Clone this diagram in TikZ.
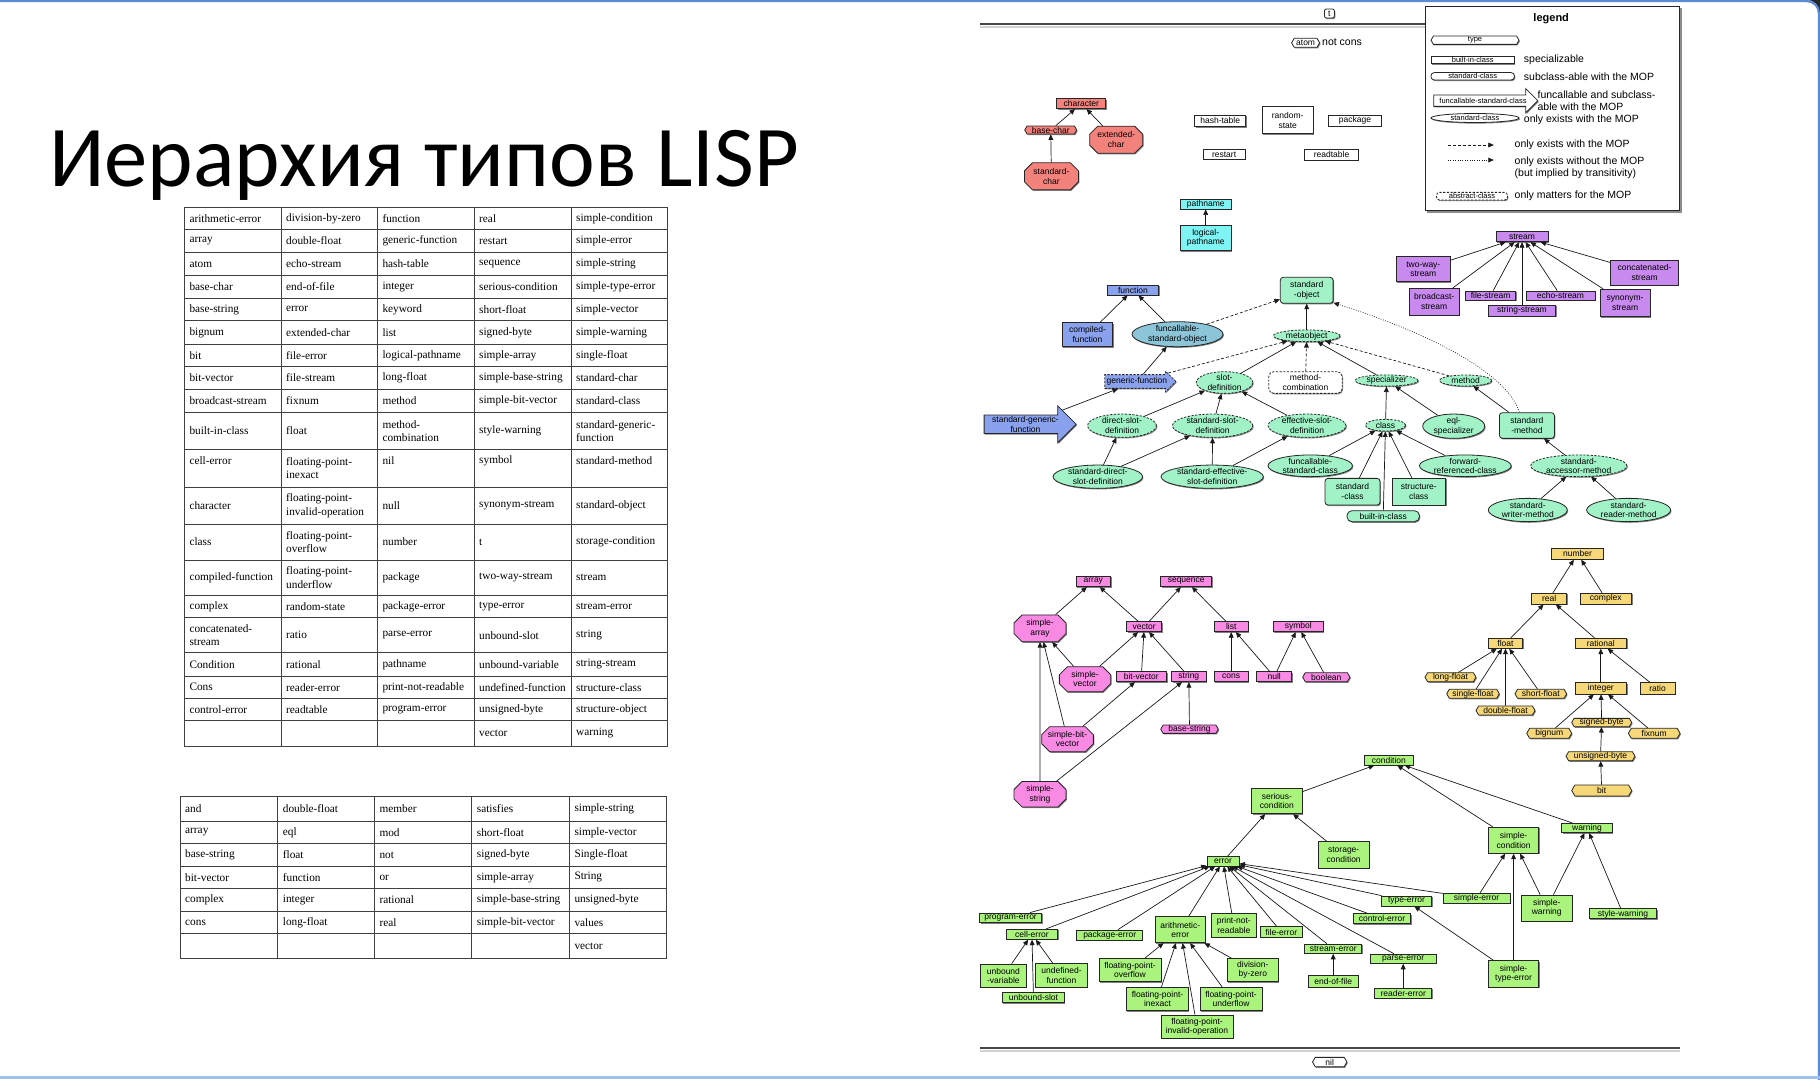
\documentclass[tikz,border=0pt]{standalone}
\usepackage{fontspec}
\newfontfamily\nf{Liberation Sans}
\newfontfamily\tf{Liberation Serif}
\newfontfamily\ttl{Carlito}
\usetikzlibrary{shapes.geometric,shapes.misc,shapes.symbols,shapes.arrows,shadows,arrows.meta}

\definecolor{cchar}{HTML}{F4827C}
\definecolor{cseq}{HTML}{F88AE4}
\definecolor{ccyan}{HTML}{7EF4F4}
\definecolor{cpurp}{HTML}{C88AEE}
\definecolor{cblue}{HTML}{8AA2EE}
\definecolor{cteal}{HTML}{8CC4D8}
\definecolor{cclos}{HTML}{A2F2C8}
\definecolor{cnum}{HTML}{F6D878}
\definecolor{ccond}{HTML}{AAF47E}
\definecolor{slideblue}{HTML}{5A8AD8}
\definecolor{bandblue}{HTML}{9CC3F0}

\tikzset{
  nd/.style={draw=black!85, line width=0.8pt, font=\nf\fontsize{8.5}{9.5}\selectfont,
    align=center, inner sep=0pt,
    drop shadow={shadow xshift=0.9pt, shadow yshift=-1.1pt, opacity=0.5, fill=black}},
  sz/.style 2 args={minimum width=#1, minimum height=#2},
  rbox/.style={nd, rectangle, fill=#1},
  rrbox/.style={nd, rectangle, rounded corners=3pt, fill=#1},
  tbox/.style={nd, signal, signal to=east and west, signal pointer angle=120, fill=#1},
  obox/.style={nd, chamfered rectangle, chamfered rectangle xsep=4pt,
    chamfered rectangle ysep=4pt, fill=#1},
  ebox/.style={nd, ellipse, fill=#1},
  e2/.style={inner ysep=-1.5pt},
  arrbox/.style={nd, single arrow, single arrow head indent=0pt, fill=#1},
  abs/.style={dash pattern=on 2.2pt off 1.5pt},
  isa/.style={-{Triangle[length=5.5pt,width=4.8pt]}, line width=0.7pt, black!90},
  mop/.style={isa, dash pattern=on 3pt off 2pt},
  transit/.style={isa, dash pattern=on 0.8pt off 1.6pt},
  lgtxt/.style={anchor=west, align=left, inner sep=0pt, font=\nf\fontsize{10.5}{12}\selectfont},
  tline/.style={line width=1pt, black!75},
  tcell/.style={anchor=west, align=left, inner sep=0pt, font=\tf\fontsize{11.3}{13.5}\selectfont},
  rule/.style={line width=2.2pt, black!72},
  ruleshade/.style={line width=2pt, black!18},
}

\begin{document}
\begin{tikzpicture}[x=1pt, y=-1pt]
\useasboundingbox (0,0) rectangle (1820,1079);
\fill[black!85] (1800,0) rectangle (1820,20);
\fill[white, rounded corners=12pt] (-20,0) -- (1819,0) -- (1819,1100) -- (-20,1100) -- cycle;
\draw[slideblue, line width=2.2pt, rounded corners=12pt] (-20,1.1) -- (1818.9,1.1) -- (1818.9,1100);
\fill[bandblue] (0,1075.5) rectangle (1820,1079);

% ---------- title ----------
\node[anchor=base west, inner sep=0pt] (title) at (49,186.5)
  {\resizebox{750pt}{!}{\ttl\fontsize{86}{90}\selectfont Иерархия типов LISP}};

% ---------- first table ----------
\foreach \x in {184.3,281,377.3,474,571,667.7} \draw[tline] (\x,207.3) -- (\x,746);
\foreach \y in {207.3,229.3,252.7,275.3,298,320.7,344,366.7,389.3,412.7,449.3,487.3,524,560,595,617.7,652.7,676,698.7,720.7,746}
  \draw[tline] (184.3,\y) -- (667.7,\y);
\foreach \y/\a/\b/\c/\d/\e [count=\r] in {
  218.3/arithmetic-error/division-by-zero/function/real/simple-condition,
  241/array/double-float/generic-function/restart/simple-error,
  264/atom/echo-stream/hash-table/sequence/simple-string,
  286.7/base-char/end-of-file/integer/serious-condition/simple-type-error,
  309.3/base-string/error/keyword/short-float/simple-vector,
  332.3/bignum/extended-char/list/signed-byte/simple-warning,
  355.3/bit/file-error/logical-pathname/simple-array/single-float,
  378/bit-vector/file-stream/long-float/simple-base-string/standard-char,
  401/broadcast-stream/fixnum/method/simple-bit-vector/standard-class,
  431/built-in-class/float/{method-\\combination}/style-warning/{standard-generic-\\function},
  505.7/character/{floating-point-\\invalid-operation}/null/synonym-stream/standard-object,
  542/class/{floating-point-\\overflow}/number/t/storage-condition,
  577.5/compiled-function/{floating-point-\\underflow}/package/two-way-stream/stream,
  606.3/complex/random-state/package-error/type-error/stream-error,
  635.2/{concatenated-\\stream}/ratio/parse-error/unbound-slot/string,
  664.3/Condition/rational/pathname/unbound-variable/string-stream,
  687.3/Cons/reader-error/print-not-readable/undefined-function/structure-class,
  709.7/control-error/readtable/program-error/unsigned-byte/structure-object}{
  \node[tcell] (ta-\r-1) at (189.3,\y) {\a};
  \node[tcell] (ta-\r-2) at (286,\y) {\b};
  \node[tcell] (ta-\r-3) at (382.3,\y) {\c};
  \node[tcell] (ta-\r-4) at (479,\y) {\d};
  \node[tcell] (ta-\r-5) at (576,\y) {\e};
}
\node[tcell] (ta-x-1) at (189.3,460.7) {cell-error};
\node[tcell] (ta-x-2) at (286,468.3) {floating-point-\\inexact};
\node[tcell] (ta-x-3) at (382.3,460.7) {nil};
\node[tcell] (ta-x-4) at (479,460.7) {symbol};
\node[tcell] (ta-x-5) at (576,460.7) {standard-method};
\node[tcell] (ta-z-4) at (479,733.3) {vector};
\node[tcell] (ta-z-5) at (576,733.3) {warning};

% ---------- second table ----------
\foreach \x in {180,277.7,374.3,471.7,569.3,666.7} \draw[tline] (\x,796.7) -- (\x,958.3);
\foreach \y in {796.7,821,843.7,866,888.7,911,933.7,958.3} \draw[tline] (180,\y) -- (666.7,\y);
\foreach \y/\a/\b/\c/\d/\e [count=\r] in {
  808.9/and/double-float/member/satisfies/simple-string,
  832.4/array/eql/mod/short-float/simple-vector,
  854.9/base-string/float/not/signed-byte/Single-float,
  877.4/bit-vector/function/or/simple-array/String,
  899.9/complex/integer/rational/simple-base-string/unsigned-byte,
  922.4/cons/long-float/real/simple-bit-vector/values}{
  \node[tcell] (tb-\r-1) at (185,\y) {\a};
  \node[tcell] (tb-\r-2) at (282.7,\y) {\b};
  \node[tcell] (tb-\r-3) at (379.3,\y) {\c};
  \node[tcell] (tb-\r-4) at (476.7,\y) {\d};
  \node[tcell] (tb-\r-5) at (574.3,\y) {\e};
}
\node[tcell] (tb-z-5) at (574.3,946) {vector};

% ---------- top and bottom rules ----------
\coordinate (topL) at (979.6,24);   \coordinate (topR) at (1680,24);
\coordinate (topLs) at (979.6,26.6); \coordinate (topRs) at (1680,26.6);
\coordinate (botL) at (979.6,1048.3); \coordinate (botR) at (1680,1048.3);
\coordinate (botLs) at (979.6,1050.9); \coordinate (botRs) at (1680,1050.9);
\draw[ruleshade] (topLs) -- (topRs);
\draw[rule] (topL) -- (topR);
\draw[ruleshade] (botLs) -- (botRs);
\draw[rule] (botL) -- (botR);

\node[rrbox=white, sz={10}{9}, rounded corners=2pt] (nT) at (1329.4,13.5) {t};
\node[tbox=white, sz={28}{9}] (nAtom) at (1305.6,42.8) {atom};
\node[lgtxt] (nNotCons) at (1322,42.3) {not cons};
\node[tbox=white, sz={34.4}{9.3}] (nNil) at (1329.7,1062) {nil};

% ---------- legend ----------
\node[draw=black!85, line width=1pt, fill=white, minimum width=254.8, minimum height=204.7,
  drop shadow={shadow xshift=1.8pt, shadow yshift=-2pt, opacity=0.45, fill=black}]
  (lgBox) at (1552.4,108.4) {};
\node[font=\nf\bfseries\fontsize{11}{13}\selectfont, inner sep=0pt] (lgTitle) at (1551.2,18.5) {legend};
\node[tbox=white, sz={88}{8.3}, font=\nf\fontsize{7.5}{8.5}\selectfont] (lgType) at (1475,40.2) {type};
\node[rbox=white, sz={83.6}{7.5}, font=\nf\fontsize{7.5}{8.5}\selectfont] (lgBic) at (1472.7,59.7) {built-in-class};
\node[rrbox=white, sz={83.6}{7.5}, rounded corners=3.5pt, font=\nf\fontsize{7.5}{8.5}\selectfont] (lgStd) at (1472.7,76.3) {standard-class};
\node[arrbox=white, minimum height=104, inner ysep=2.5pt, inner xsep=1pt, single arrow head extend=6.5pt, font=\nf\fontsize{7.5}{8.5}\selectfont] (lgFsc) at (1483,100.7) {funcallable-standard-class};
\node[ebox=white, sz={88}{9}, font=\nf\fontsize{7.5}{8.5}\selectfont] (lgOnly) at (1475,118) {standard-class};
\node[rrbox=white, abs, sz={71}{7.7}, font=\nf\fontsize{7.5}{8.5}\selectfont] (lgAbs) at (1472,196.2) {abstract-class};
\node[lgtxt] (lgT1) at (1523.7,60) {specializable};
\node[lgtxt] (lgT2) at (1523.7,77) {subclass-able with the MOP};
\node[lgtxt] (lgT3) at (1537.4,100.5) {funcallable and subclass-\\able with the MOP};
\node[lgtxt] (lgT4) at (1523.7,119.3) {only exists with the MOP};
\coordinate (lgD1) at (1448,145); \coordinate (lgD2) at (1493.8,145);
\coordinate (lgP1) at (1448,160); \coordinate (lgP2) at (1493.8,160);
\draw[mop] (lgD1) -- (lgD2);
\draw[transit] (lgP1) -- (lgP2);
\node[lgtxt] (lgT5) at (1514.5,145) {only exists with the MOP};
\node[lgtxt] (lgT6) at (1514.5,167.8) {only exists without the MOP\\(but implied by transitivity)};
\node[lgtxt] (lgT7) at (1514.5,196.2) {only matters for the MOP};

% ---------- characters and misc built-ins ----------
\node[rbox=cchar, sz={49}{10}] (nChar) at (1081.3,103.7) {character};
\node[tbox=cchar, sz={52}{8}] (nBaseChar) at (1050.7,130) {base-char};
\node[obox=cchar, sz={53}{27}] (nExtChar) at (1116.2,139.7) {extended-\\char};
\node[obox=cchar, sz={54}{27}] (nStdChar) at (1051.4,176.3) {standard-\\char};
\node[rbox=white, sz={51}{11.7}] (nHash) at (1220.2,120.8) {hash-table};
\node[rbox=white, sz={51}{27}] (nRand) at (1287.7,120.3) {random-\\state};
\node[rbox=white, sz={53}{11}] (nPkg) at (1354.9,120.5) {package};
\node[rbox=white, sz={42}{10}] (nRestart) at (1224.1,154.3) {restart};
\node[rbox=white, sz={54}{10.7}] (nReadtable) at (1331.5,154.7) {readtable};

% ---------- pathnames ----------
\node[rbox=ccyan, sz={51}{9.7}] (nPath) at (1205.7,204.2) {pathname};
\node[rbox=ccyan, sz={51}{25.7}] (nLogPath) at (1205.7,237.8) {logical-\\pathname};

% ---------- streams ----------
\node[rbox=cpurp, sz={52}{10}] (nStream) at (1522,236.7) {stream};
\node[rbox=cpurp, sz={54}{25}] (nTwoWay) at (1423.3,269.2) {two-way-\\stream};
\node[rbox=cpurp, sz={67.5}{25}] (nConcat) at (1644.6,272.5) {concatenated-\\stream};
\node[rbox=cpurp, sz={50.5}{26.7}] (nBroad) at (1434.2,301.7) {broadcast-\\stream};
\node[rbox=cpurp, sz={50.5}{9}] (nFileS) at (1490.6,295.5) {file-stream};
\node[rbox=cpurp, sz={69}{9}] (nEchoS) at (1560.4,295.5) {echo-stream};
\node[rbox=cpurp, sz={67.5}{11}] (nStringS) at (1522,310.5) {string-stream};
\node[rbox=cpurp, sz={49.6}{27.3}] (nSynS) at (1625.1,303) {synonym-\\stream};

% ---------- functions and CLOS ----------
\node[rbox=cblue, sz={51.5}{10}] (nFunc) at (1133,290) {function};
\node[rbox=cblue, sz={50.5}{24}] (nCompFunc) at (1087.5,334.7) {compiled-\\function};
\node[ebox=cteal, e2, sz={91}{25}] (nFSO) at (1177.5,334.2) {funcallable-\\standard-object};
\node[rrbox=cclos, sz={52.8}{26}] (nSO) at (1306.7,290.3) {standard\\-object};
\node[ebox=cclos, abs, sz={66.6}{11.7}] (nMeta) at (1306.7,335.8) {metaobject};
\node[arrbox=cblue, abs, minimum height=71, inner ysep=2.5pt, inner xsep=1pt, single arrow head extend=3.5pt] (nGF) at (1136.9,381.5) {generic-function};
\node[ebox=cclos, abs, e2, sz={56.5}{21.7}] (nSlotDef) at (1224.5,382.5) {slot-\\definition};
\node[rrbox=white, abs, sz={73.5}{21.7}, rounded corners=5pt] (nMC) at (1305.5,382.5) {method-\\combination};
\node[ebox=cclos, abs, sz={62.9}{11}] (nSpec) at (1386.6,380.5) {specializer};
\node[ebox=cclos, abs, sz={51.9}{11}] (nMethod) at (1465.6,380.5) {method};
\node[arrbox=cblue, minimum height=92, inner ysep=1pt, inner xsep=2pt, single arrow head extend=9.2pt] (nSGF) at (1025.5,424.3) {standard-generic-\\function};
\node[ebox=cclos, abs, e2, sz={68.9}{23.3}] (nDSD) at (1122,425.7) {direct-slot-\\definition};
\node[ebox=cclos, abs, e2, sz={80.4}{23.3}] (nSSD) at (1212.6,425.7) {standard-slot-\\definition};
\node[ebox=cclos, abs, e2, sz={78}{23.3}] (nESD) at (1307,425.7) {effective-slot-\\definition};
\node[ebox=cclos, abs, sz={40.4}{11.7}] (nClass) at (1385.5,425.2) {class};
\node[ebox=cclos, e2, sz={62}{24.3}] (nEql) at (1453.7,426.2) {eql-\\specializer};
\node[rrbox=cclos, sz={55}{25.7}] (nSM) at (1526.9,425.5) {standard\\-method};
\node[ebox=cclos, e2, sz={89.5}{23.3}] (nSDSD) at (1097.8,476.7) {standard-direct-\\slot-definition};
\node[ebox=cclos, e2, sz={102.3}{23.3}] (nSESD) at (1212.2,476.7) {standard-effective-\\slot-definition};
\node[ebox=cclos, e2, sz={84.5}{21.7}] (nFSC) at (1310.2,465.8) {funcallable-\\standard-class};
\node[ebox=cclos, e2, sz={91.8}{21.7}] (nFRC) at (1465.3,465.8) {forward-\\referenced-class};
\node[rrbox=cclos, sz={55}{26.7}] (nSC) at (1352.5,491.7) {standard\\-class};
\node[rbox=cclos, sz={53.7}{26.7}] (nStrC) at (1418.8,491.7) {structure-\\class};
\node[rrbox=cclos, sz={72.5}{11}, rounded corners=5pt] (nBIC) at (1383.2,516.2) {built-in-class};
\node[ebox=cclos, abs, e2, sz={96.4}{21.7}, inner xsep=-2pt] (nSAM) at (1578.8,465.8) {standard-\\accessor-method};
\node[ebox=cclos, e2, sz={79}{23.3}] (nSWM) at (1527.8,510) {standard-\\writer-method};
\node[ebox=cclos, e2, sz={84}{23.3}] (nSRM) at (1628.6,510) {standard-\\reader-method};

% ---------- sequences and symbols ----------
\node[rbox=cseq, sz={34.7}{10.7}] (nArray) at (1093.3,581.3) {array};
\node[rbox=cseq, sz={51}{10.7}] (nSeq) at (1186.2,581.3) {sequence};
\node[obox=cseq, sz={52}{26.7}] (nSArr) at (1040,628.3) {simple-\\array};
\node[rbox=cseq, sz={35}{10}] (nVec) at (1144.2,626.7) {vector};
\node[rbox=cseq, sz={34.3}{10}] (nList) at (1231.2,626.7) {list};
\node[rbox=cseq, sz={50}{10}] (nSym) at (1298.3,626.7) {symbol};
\node[obox=cseq, sz={51.3}{25}] (nSVec) at (1085,679.2) {simple-\\vector};
\node[rbox=cseq, sz={50.7}{10}] (nBitVec) at (1141.3,676.7) {bit-vector};
\node[rbox=cseq, sz={34.3}{10}] (nString) at (1188.8,676.7) {string};
\node[rbox=cseq, sz={34.3}{10}] (nCons) at (1231.2,676.7) {cons};
\node[rbox=cseq, sz={35}{10}] (nNull) at (1274.2,676.7) {null};
\node[tbox=cseq, sz={47.3}{9}] (nBool) at (1326.3,677.2) {boolean};
\node[tbox=cseq, sz={57.6}{8.3}] (nBaseStr) at (1189.5,729.2) {base-string};
\node[obox=cseq, sz={51.7}{25}] (nSBV) at (1067.5,739.2) {simple-bit-\\vector};
\node[obox=cseq, sz={52}{25}] (nSStr) at (1040,794.2) {simple-\\string};

% ---------- numbers ----------
\node[rbox=cnum, sz={51.7}{11}] (nNum) at (1577.5,553.8) {number};
\node[rbox=cnum, sz={35}{10.7}] (nReal) at (1549.2,598.7) {real};
\node[rbox=cnum, sz={51.7}{10.7}] (nCplx) at (1605.8,598.7) {complex};
\node[rbox=cnum, sz={34.3}{10}] (nFloat) at (1505.5,643.3) {float};
\node[rbox=cnum, sz={51.7}{10}] (nRat) at (1600.8,643.3) {rational};
\node[tbox=cnum, sz={51}{9}] (nLF) at (1450.5,677.2) {long-float};
\node[tbox=cnum, sz={52.6}{9}] (nSF) at (1473,693.8) {single-float};
\node[tbox=cnum, sz={51.7}{9}] (nShF) at (1540.8,693.8) {short-float};
\node[tbox=cnum, sz={59}{9}] (nDF) at (1505.5,710.5) {double-float};
\node[rbox=cnum, sz={51.7}{11.3}] (nInt) at (1600.8,688.3) {integer};
\node[rbox=cnum, sz={35}{11.3}] (nRatio) at (1657.5,688.3) {ratio};
\node[tbox=cnum, sz={45}{10}] (nBig) at (1549.2,733.3) {bignum};
\node[tbox=cnum, sz={60}{8.3}] (nSB) at (1601.7,722.5) {signed-byte};
\node[tbox=cnum, sz={51.7}{10}] (nFix) at (1654.2,733.3) {fixnum};
\node[tbox=cnum, sz={69}{9}] (nUB) at (1600.5,756.2) {unsigned-byte};
\node[tbox=cnum, sz={60}{11}] (nBit) at (1601.7,790.5) {bit};

% ---------- conditions ----------
\node[rbox=ccond, sz={49}{10}] (nCond) at (1388.9,760) {condition};
\node[rbox=ccond, sz={50.5}{25.5}] (nSerious) at (1276.9,801) {serious-\\condition};
\node[rbox=ccond, sz={50.5}{26.7}] (nStorage) at (1343.7,855) {storage-\\condition};
\node[rbox=ccond, sz={32}{9.3}] (nErr) at (1223,861.3) {error};
\node[rbox=ccond, sz={50.5}{26}] (nSCond) at (1513.6,840.3) {simple-\\condition};
\node[rbox=ccond, sz={50.5}{9.3}] (nWarn) at (1587,828) {warning};
\node[rbox=ccond, sz={50.5}{10}] (nTypeErr) at (1406.5,901) {type-error};
\node[rbox=ccond, sz={66.6}{10}] (nSErr) at (1476.6,898.3) {simple-error};
\node[rbox=ccond, sz={50.5}{26}] (nSWarn) at (1546.7,908) {simple-\\warning};
\node[rbox=ccond, sz={67.5}{10}] (nStyleW) at (1623,913.8) {style-warning};
\node[rbox=ccond, sz={62}{9.5}] (nProgErr) at (1010.6,917.7) {program-error};
\node[rbox=ccond, sz={57.4}{10}] (nCtrlErr) at (1382,918.5) {control-error};
\node[rbox=ccond, sz={51.4}{10}] (nCellErr) at (1031.9,934.3) {cell-error};
\node[rbox=ccond, sz={65.7}{10}] (nPkgErr) at (1109.7,935) {package-error};
\node[rbox=ccond, sz={50.5}{26}] (nArithErr) at (1180.3,929.7) {arithmetic-\\error};
\node[rbox=ccond, sz={44.5}{24}] (nPNR) at (1233.8,925.3) {print-not-\\readable};
\node[rbox=ccond, sz={41.3}{10.7}] (nFileErr) at (1281.3,932) {file-error};
\node[rbox=ccond, sz={57}{9.3}] (nStreamErr) at (1333.2,948.7) {stream-error};
\node[rbox=ccond, sz={66.5}{9.3}] (nParseErr) at (1403.2,958.7) {parse-error};
\node[rbox=ccond, sz={50.5}{26.7}] (nSTE) at (1513.6,974) {simple-\\type-error};
\node[rbox=ccond, sz={46}{23.3}] (nUnbVar) at (1003.4,975.7) {unbound\\-variable};
\node[rbox=ccond, sz={52}{24}] (nUndFun) at (1061.5,975.3) {undefined-\\function};
\node[rbox=ccond, sz={62}{10}] (nUnbSlot) at (1033.5,997.7) {unbound-slot};
\node[rbox=ccond, sz={62}{23.3}] (nFPO) at (1130,970) {floating-point-\\overflow};
\node[rbox=ccond, sz={50.5}{23.3}] (nDivZ) at (1252.8,970) {division-\\by-zero};
\node[rbox=ccond, sz={62}{23.3}] (nFPIx) at (1157.5,999) {floating-point-\\inexact};
\node[rbox=ccond, sz={62}{23.3}] (nFPU) at (1231,999) {floating-point-\\underflow};
\node[rbox=ccond, sz={72}{23.3}] (nFPIO) at (1197,1026.7) {floating-point-\\invalid-operation};
\node[rbox=ccond, sz={50.5}{12.3}] (nEOF) at (1333.2,981.2) {end-of-file};
\node[rbox=ccond, sz={57.3}{10}] (nReaderErr) at (1403.2,993.3) {reader-error};

% ---------- subtype links (child -> parent) ----------
\foreach \a/\b in {
  nBaseChar/nChar, nExtChar/nChar, nStdChar/nBaseChar, nLogPath/nPath,
  nTwoWay/nStream, nConcat/nStream, nBroad/nStream, nFileS/nStream,
  nEchoS/nStream, nStringS/nStream, nSynS/nStream,
  nCompFunc/nFunc, nFSO/nFunc, nMeta/nSO, nGF/nFSO, nSlotDef/nMeta, nSpec/nMeta,
  nSGF/nGF, nDSD/nSlotDef, nSSD/nSlotDef, nESD/nSlotDef,
  nSDSD/nDSD, nSDSD/nSSD, nSESD/nSSD, nSESD/nESD,
  nClass/nSpec, nEql/nSpec, nSM/nMethod, nSAM/nSM, nSWM/nSAM, nSRM/nSAM,
  nFSC/nClass, nSC/nClass, nStrC/nClass, nFRC/nClass, nBIC/nClass,
  nSArr/nArray, nVec/nArray, nVec/nSeq, nList/nSeq, nSVec/nSArr, nSVec/nVec,
  nBitVec/nVec, nString/nVec, nCons/nList, nNull/nList, nNull/nSym, nBool/nSym,
  nBaseStr/nString, nSBV/nSArr, nSBV/nBitVec, nSStr/nSArr, nSStr/nString,
  nReal/nNum, nCplx/nNum, nFloat/nReal, nRat/nReal, nLF/nFloat, nSF/nFloat,
  nDF/nFloat, nShF/nFloat, nInt/nRat, nRatio/nRat, nBig/nInt, nSB/nInt, nFix/nInt,
  nUB/nSB, nBit/nUB,
  nSerious/nCond, nSCond/nCond, nWarn/nCond, nErr/nSerious, nStorage/nSerious,
  nSErr/nSCond, nSErr/nErr, nSTE/nSCond, nSTE/nTypeErr, nSWarn/nSCond, nSWarn/nWarn,
  nStyleW/nWarn, nProgErr/nErr, nCellErr/nErr, nPkgErr/nErr, nArithErr/nErr,
  nPNR/nErr, nFileErr/nErr, nStreamErr/nErr, nParseErr/nErr, nCtrlErr/nErr,
  nTypeErr/nErr, nUnbVar/nCellErr, nUndFun/nCellErr, nUnbSlot/nCellErr,
  nFPO/nArithErr, nFPIx/nArithErr, nFPIO/nArithErr, nFPU/nArithErr, nDivZ/nArithErr,
  nEOF/nStreamErr, nReaderErr/nParseErr}
  \draw[isa] (\a) -- (\b);
\foreach \a/\b in {nFSO/nSO, nGF/nMeta, nMC/nMeta, nMethod/nMeta}
  \draw[mop] (\a) -- (\b);
\draw[transit] (nSM.120) .. controls (1510,380) and (1450,340) .. (nSO.-25);
\end{tikzpicture}
\end{document}
